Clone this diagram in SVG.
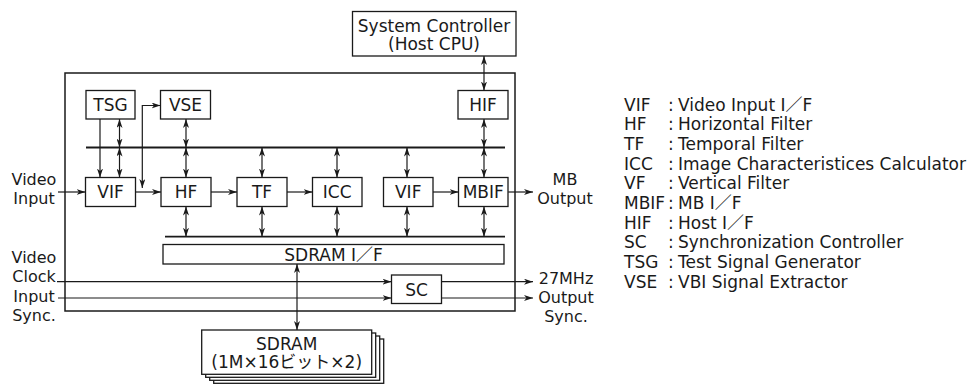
<svg xmlns="http://www.w3.org/2000/svg" width="971" height="385" viewBox="0 0 971 385">
<style>
text{font-family:"DejaVu Sans","Noto Sans CJK JP",sans-serif;font-size:17px;fill:#1a1a1a}
.c{text-anchor:middle}
.s{font-size:16px}
.box{fill:#fff;stroke:#1a1a1a;stroke-width:1.3}
.frame{fill:none;stroke:#1a1a1a;stroke-width:1.5}
.w{fill:none;stroke:#1a1a1a;stroke-width:1.2}
.bus{fill:none;stroke:#1a1a1a;stroke-width:1.8}
.a{marker-end:url(#ah)}
.d{marker-start:url(#ah);marker-end:url(#ah)}
</style>
<defs>
<marker id="ah" viewBox="0 0 9 6" refX="9" refY="3" markerWidth="9" markerHeight="6" orient="auto-start-reverse" markerUnits="userSpaceOnUse">
<path d="M0,0 L9,3 L0,6 L2.5,3 Z" fill="#1a1a1a"/>
</marker>
</defs>
<rect width="971" height="385" fill="#fff"/>

<g id="chip"><rect class="frame" x="65" y="73" width="450" height="238"/></g>

<g id="syscon"><rect class="box" x="352.5" y="11.5" width="163.5" height="44.5"/>
<text class="c" x="434" y="31.5">System Controller</text><text class="c" x="434" y="50">(Host CPU)</text></g>

<g id="tsg"><rect class="box" x="86" y="90.5" width="49" height="28.5"/><text class="c" x="110.5" y="111">TSG</text></g>
<g id="vse"><rect class="box" x="160.5" y="90.5" width="50" height="28.5"/><text class="c" x="185.5" y="111">VSE</text></g>
<g id="hif"><rect class="box" x="458" y="90.5" width="50" height="28.5"/><text class="c" x="483" y="111">HIF</text></g>

<g id="vif1"><rect class="box" x="85.5" y="177.5" width="50" height="29"/><text class="c" x="110.5" y="198.3">VIF</text></g>
<g id="hf"><rect class="box" x="161" y="177.5" width="50" height="29"/><text class="c" x="186" y="198.3">HF</text></g>
<g id="tf"><rect class="box" x="237" y="177.5" width="50" height="29"/><text class="c" x="262" y="198.3">TF</text></g>
<g id="icc"><rect class="box" x="312.5" y="177.5" width="49.5" height="29"/><text class="c" x="337.2" y="198.3">ICC</text></g>
<g id="vif2"><rect class="box" x="383.5" y="177.5" width="49.5" height="29"/><text class="c" x="408.2" y="198.3">VIF</text></g>
<g id="mbif"><rect class="box" x="458.5" y="177.5" width="49.5" height="29"/><text class="c" x="483.2" y="198.3">MBIF</text></g>

<g id="sdramif"><rect class="box" x="163" y="244.5" width="341" height="19.5"/><text class="c" x="333.5" y="260.5">SDRAM I／F</text></g>
<g id="sc"><rect class="box" x="391.5" y="275" width="50" height="28.5"/><text class="c" x="416.5" y="295.5">SC</text></g>

<g id="sdram">
<rect class="box" x="213.7" y="339" width="170" height="44.3"/>
<rect class="box" x="209.7" y="336" width="170" height="44.3"/>
<rect class="box" x="205.7" y="333" width="170" height="44.3"/>
<rect class="box" x="201.7" y="330" width="170" height="44.3"/>
<text class="c" x="286.7" y="349.5">SDRAM</text>
<text class="c" x="286.7" y="368">(1M×16ビット×2)</text>
</g>

<g id="labels">
<text class="c s" x="34" y="184.5">Video</text><text class="c s" x="34" y="203.5">Input</text>
<text class="c s" x="34" y="262.8">Video</text><text class="c s" x="34" y="281.6">Clock</text>
<text class="c s" x="34" y="302.4">Input</text><text class="c s" x="34" y="321.2">Sync.</text>
<text class="c s" x="565" y="184.5">MB</text><text class="c s" x="565" y="203.5">Output</text>
<text class="c s" x="566" y="284.3">27MHz</text><text class="c s" x="566" y="303.1">Output</text><text class="c s" x="566" y="321.9">Sync.</text>
</g>

<g id="connectors">
<path class="bus" d="M86,147.5 H505"/>
<path class="bus" d="M165,236.7 H505"/>
<path class="w d" d="M484,56 V90.5"/>
<path class="w d" d="M119.5,119 V147.5"/>
<path class="w d" d="M186,119 V147.5"/>
<path class="w d" d="M484,119 V147.5"/>
<path class="w d" d="M119.5,147.5 V177.5"/>
<path class="w d" d="M186,147.5 V177.5"/>
<path class="w d" d="M262,147.5 V177.5"/>
<path class="w d" d="M337,147.5 V177.5"/>
<path class="w d" d="M407,147.5 V177.5"/>
<path class="w d" d="M484,147.5 V177.5"/>
<path class="w d" d="M186,206.5 V236.7"/>
<path class="w d" d="M262,206.5 V236.7"/>
<path class="w d" d="M337,206.5 V236.7"/>
<path class="w d" d="M407,206.5 V236.7"/>
<path class="w d" d="M484,206.5 V236.7"/>
<path class="w a" d="M100,119 V177.5"/>
<path class="w d" d="M142.3,188 V105.5 H160.5"/>
<path class="w a" d="M58,192 H85.5"/>
<path class="w a" d="M135.5,192 H161"/>
<path class="w a" d="M211,192 H237"/>
<path class="w a" d="M287,192 H312.5"/>
<path class="w a" d="M433,192 H458.5"/>
<path class="w a" d="M508,192 H533"/>
<path class="w a" d="M57,281.7 H391.5"/>
<path class="w a" d="M58,298 H391.5"/>
<path class="w a" d="M441.5,281.7 H533"/>
<path class="w a" d="M441.5,298 H533"/>
<path class="w d" d="M297,264 V330"/>
</g>

<g id="legend">
<text x="624" y="110.5">VIF</text><text x="668" y="110.5">:</text><text x="678" y="110.5">Video Input I／F</text>
<text x="624" y="130.2">HF</text><text x="668" y="130.2">:</text><text x="678" y="130.2">Horizontal Filter</text>
<text x="624" y="149.8">TF</text><text x="668" y="149.8">:</text><text x="678" y="149.8">Temporal Filter</text>
<text x="624" y="169.5">ICC</text><text x="668" y="169.5">:</text><text x="678" y="169.5">Image Characteristices Calculator</text>
<text x="624" y="189.2">VF</text><text x="668" y="189.2">:</text><text x="678" y="189.2">Vertical Filter</text>
<text x="624" y="208.8">MBIF</text><text x="668" y="208.8">:</text><text x="678" y="208.8">MB I／F</text>
<text x="624" y="228.5">HIF</text><text x="668" y="228.5">:</text><text x="678" y="228.5">Host I／F</text>
<text x="624" y="248.2">SC</text><text x="668" y="248.2">:</text><text x="678" y="248.2">Synchronization Controller</text>
<text x="624" y="267.9">TSG</text><text x="668" y="267.9">:</text><text x="678" y="267.9">Test Signal Generator</text>
<text x="624" y="287.5">VSE</text><text x="668" y="287.5">:</text><text x="678" y="287.5">VBI Signal Extractor</text>
</g>
</svg>
